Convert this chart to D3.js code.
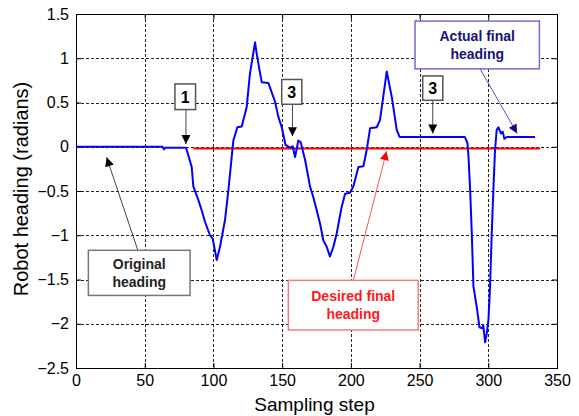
<!DOCTYPE html>
<html>
<head>
<meta charset="utf-8">
<script src="https://cdn.jsdelivr.net/npm/d3@7"></script>
<style>
  body { margin:0; background:#fff; }
  svg { font-family: "Liberation Sans", Arial, sans-serif; }
  .boxText { font-weight:bold; text-anchor:middle; }
</style>
</head>
<body>
<svg id="chart" width="579" height="416"></svg>
<script>
// ------------------------------ DATA ------------------------------
var STEPS = [0, 63, 64, 65, 80, 81.8, 84.2, 85.4, 89, 91.5, 93.9, 97.5, 99.5, 102.4, 104.8, 108.4, 110.9, 113.3, 114.5, 117.4,
  120.6, 124.2, 126.6, 130.3, 131.5, 135.1, 140, 144.8, 147.2, 149.7, 152.5, 155.8, 157.7, 159.4, 161.8, 163.5, 166.7, 170.3,
  172.7, 175.2, 177.6, 180, 182.4, 184.8, 187.3, 189.7, 193.3, 195.8, 199.4, 201.8, 205.5, 209.1, 211.5, 214, 218.8, 221.2,
  226.1, 229.8, 233.4, 235.5, 283, 284.9, 285.6, 286.8, 288, 289.2, 291.6, 293.6, 295.3, 296.4, 297.7, 298.9, 300.1, 301.3,
  302.5, 303.7, 304.9, 306.1, 307.3, 309.3, 310.5, 311.7, 313.5, 334];
var HEADING = [0, 0, -0.03, -0.01, -0.01, -0.1, -0.23, -0.45, -0.6, -0.72, -0.85, -1.0, -1.04, -1.28, -1.13, -0.83, -0.49, -0.115, 0.07, 0.22,
  0.23, 0.45, 0.83, 1.18, 1.05, 0.73, 0.72, 0.51, 0.34, 0.22, 0.02, -0.01, 0.005, -0.115, 0.07, 0.05, -0.15, -0.45,
  -0.57, -0.72, -0.87, -1.06, -1.13, -1.24, -1.13, -0.98, -0.68, -0.53, -0.52, -0.45, -0.23, -0.22, -0.04, 0.21, 0.22, 0.3,
  0.85, 0.56, 0.19, 0.11, 0.11, 0.04, -0.115, -0.49, -0.98, -1.58, -1.81, -2.04, -2.05, -2.02, -2.21, -2.11, -1.96, -1.58,
  -0.98, -0.49, -0.04, 0.19, 0.22, 0.15, 0.17, 0.09, 0.11, 0.11];

// desired final heading (red reference line)
var DESIRED_STEPS = [85.4, 337.7];
var DESIRED_HEADING = [-0.02, -0.02];

var X_TICKS = [0, 50, 100, 150, 200, 250, 300, 350];
var Y_TICKS = [1.5, 1, 0.5, 0, -0.5, -1, -1.5, -2, -2.5];

var X_LABEL = "Sampling step";
var Y_LABEL = "Robot heading (radians)";

// ------------------------------ LAYOUT ------------------------------
var LEFT = 76, TOP = 14, RIGHT = 557, BOTTOM = 368;
var width = RIGHT - LEFT, height = BOTTOM - TOP;

var svg = d3.select("#chart");

// arrow heads
var defs = svg.append("defs");
[["head_black", "#000"], ["head_red", "#ff0000"], ["head_navy", "#10107a"]].forEach(function(m){
  defs.append("marker").attr("id", m[0])
    .attr("viewBox", "0 0 10 10").attr("refX", 10).attr("refY", 5)
    .attr("markerWidth", 10).attr("markerHeight", 9)
    .attr("markerUnits", "userSpaceOnUse")
    .attr("orient", "auto")
    .append("path").attr("d", "M0,0 L10,5 L0,10 z").attr("fill", m[1]);
});

var x = d3.scaleLinear().domain([0, 350]).range([0, width]);
var y = d3.scaleLinear().domain([-2.5, 1.5]).range([height, 0]);

var g = svg.append("g").attr("transform", "translate(" + LEFT + "," + TOP + ")");

// ------------------------------ GRID ------------------------------
var gGrid = g.append("g").attr("id", "grid");
gGrid.selectAll("line.gx").data(X_TICKS.slice(1, -1)).enter().append("line")
  .attr("x1", function(d){ return Math.round(x(d)) + 0.5; })
  .attr("x2", function(d){ return Math.round(x(d)) + 0.5; })
  .attr("y1", 0).attr("y2", height)
  .style("stroke", "#222").style("stroke-dasharray", "3,2").style("stroke-width", 1);
gGrid.selectAll("line.gy").data(Y_TICKS.slice(1, -1)).enter().append("line")
  .attr("y1", function(d){ return Math.round(y(d)) + 0.5; })
  .attr("y2", function(d){ return Math.round(y(d)) + 0.5; })
  .attr("x1", 0).attr("x2", width)
  .style("stroke", "#222").style("stroke-dasharray", "3,2").style("stroke-width", 1);

// ------------------------------ AXES ------------------------------
g.append("g").attr("transform", "translate(0," + height + ")")
  .call(d3.axisBottom(x).tickValues(X_TICKS).tickSizeInner(-5).tickSizeOuter(0).tickPadding(7));
g.append("g")
  .call(d3.axisLeft(y).tickValues(Y_TICKS).tickSizeInner(-5).tickSizeOuter(0).tickPadding(7).tickFormat(d3.format("")));
g.append("g")
  .call(d3.axisTop(x).tickValues(X_TICKS).tickSizeInner(-5).tickSizeOuter(0).tickFormat(""));
g.append("g").attr("transform", "translate(" + width + ",0)")
  .call(d3.axisRight(y).tickValues(Y_TICKS).tickSizeInner(-5).tickSizeOuter(0).tickFormat(""));
g.selectAll(".domain").remove();
g.selectAll(".tick line").style("stroke", "#000");
g.selectAll(".tick text").style("font-family", "'Liberation Sans', Arial, sans-serif")
  .style("font-size", "16px").style("fill", "#000");

g.append("rect").attr("x", 0.5).attr("y", 0.5).attr("width", width).attr("height", height)
  .style("fill", "none").style("stroke", "#000").style("stroke-width", 1);

// axis titles
svg.append("text").text(X_LABEL)
  .attr("x", LEFT + width / 2 - 2).attr("y", 411)
  .style("text-anchor", "middle").style("font-size", "19px");
svg.append("text").text(Y_LABEL)
  .attr("transform", "translate(28," + (TOP + height / 2 - 2) + ") rotate(-90)")
  .style("text-anchor", "middle").style("font-size", "20px");

// ------------------------------ LINES ------------------------------
var line = d3.line().x(function(d){ return x(d[0]); }).y(function(d){ return y(d[1]); });

g.append("path").datum(d3.zip(DESIRED_STEPS, DESIRED_HEADING))
  .attr("d", line).style("fill", "none").style("stroke", "#ff0000").style("stroke-width", 2);

g.append("path").datum(d3.zip(STEPS, HEADING))
  .attr("d", line).style("fill", "none").style("stroke", "#0000ff").style("stroke-width", 2)
  .style("stroke-linejoin", "round");

// ------------------------------ ANNOTATIONS ------------------------------
// boxes in data units: [x0, x1, yTop, yBottom]
function _drawBox(box, lines, stroke, color, size){
  var bx = x(box[0]), by = y(box[2]), bw = x(box[1]) - x(box[0]), bh = y(box[3]) - y(box[2]);
  g.append("rect").attr("x", bx).attr("y", by).attr("width", bw).attr("height", bh)
    .style("fill", "#fff").style("stroke", stroke).style("stroke-width", 1.5);
  var lh = size + 3.5;
  var y0 = by + bh / 2 - (lines.length - 1) * lh / 2;
  lines.forEach(function(t, i){
    g.append("text").text(t).attr("class", "boxText")
      .attr("x", bx + bw / 2).attr("y", y0 + i * lh).attr("dy", "0.36em")
      .style("fill", color).style("font-size", size + "px");
  });
}

function _drawArrow(from, to, stroke, head){
  g.append("line")
    .attr("x1", x(from[0])).attr("y1", y(from[1]))
    .attr("x2", x(to[0])).attr("y2", y(to[1]))
    .style("stroke", stroke).style("stroke-width", 1)
    .attr("marker-end", "url(#" + head + ")");
}

// "1"
_drawArrow([80, 0.42], [80, 0.03], "#444", "head_black");
_drawBox([72, 87, 0.71, 0.42], ["1"], "#555", "#000", 16);
// "3" (first)
_drawArrow([157.5, 0.48], [157.5, 0.12], "#444", "head_black");
_drawBox([149.7, 164.3, 0.76, 0.48], ["3"], "#555", "#000", 16);
// "3" (second)
_drawArrow([259.6, 0.525], [259.6, 0.15], "#444", "head_black");
_drawBox([252.3, 266.9, 0.80, 0.525], ["3"], "#555", "#000", 16);

// Original heading
_drawArrow([45, -1.17], [22.3, -0.12], "#444", "head_black");
_drawBox([9, 83, -1.17, -1.68], ["Original", "heading"], "#777", "#222", 14);

// Desired final heading
_drawArrow([201.8, -1.51], [226, -0.05], "#ff5050", "head_red");
_drawBox([154.5, 249, -1.51, -2.07], ["Desired final", "heading"], "#f08080", "#ff1a1a", 14);

// Actual final heading
_drawArrow([294, 0.88], [321, 0.15], "#5555aa", "head_navy");
_drawBox([246.7, 337.2, 1.42, 0.88], ["Actual final", "heading"], "#7070c8", "#14147a", 14);
</script>
</body>
</html>
